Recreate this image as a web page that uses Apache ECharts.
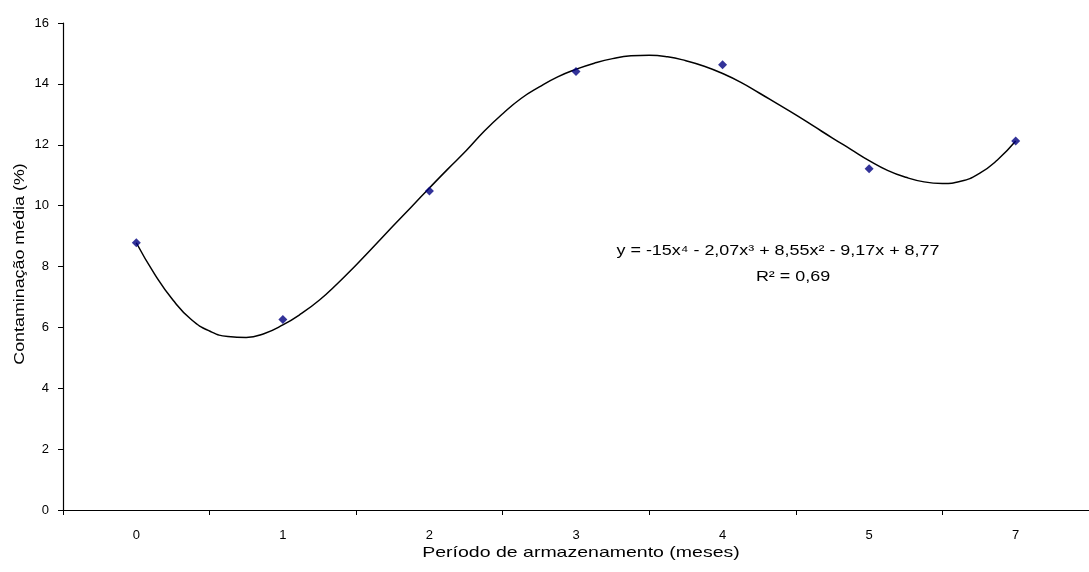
<!DOCTYPE html>
<html>
<head>
<meta charset="utf-8">
<script src="https://cdn.jsdelivr.net/npm/echarts@6/dist/echarts.min.js"></script>
<style>html,body{margin:0;padding:0;background:#fff}#c{width:1089px;height:572px}</style>
</head>
<body>
<div id="c"></div>
<script>
// Data
const categories = ['0', '1', '2', '3', '4', '5', '7'];
const observed = [8.78, 6.26, 10.48, 14.41, 14.63, 11.21, 12.12];
// Trend line: positions in category units, values in %
const trendPos = [0, 0.125, 0.25, 0.375, 0.5, 0.625, 0.75, 0.875, 1.0, 1.125, 1.25, 1.375, 1.5, 1.625, 1.75, 1.875, 2.0, 2.125, 2.25, 2.375, 2.5, 2.625, 2.75, 2.875, 3.0, 3.125, 3.25, 3.375, 3.5, 3.625, 3.75, 3.875, 4.0, 4.125, 4.25, 4.375, 4.5, 4.625, 4.75, 4.875, 5.0, 5.125, 5.25, 5.375, 5.5, 5.625, 5.75, 5.875, 6.0];
const trendVal = [8.78, 7.75, 6.90, 6.26, 5.88, 5.70, 5.67, 5.80, 6.08, 6.45, 6.90, 7.45, 8.05, 8.68, 9.32, 9.95, 10.58, 11.20, 11.80, 12.45, 13.02, 13.52, 13.90, 14.23, 14.48, 14.68, 14.83, 14.92, 14.94, 14.89, 14.76, 14.58, 14.34, 14.05, 13.70, 13.34, 12.98, 12.60, 12.22, 11.85, 11.48, 11.16, 10.93, 10.78, 10.73, 10.80, 11.05, 11.50, 12.12];
const yTicks = [0, 2, 4, 6, 8, 10, 12, 14, 16];
const equation = 'y = -15x⁴ - 2,07x³ + 8,55x² - 9,17x + 8,77';
const rSquared = 'R² = 0,69';
const xTitle = 'Período de armazenamento (meses)';
const yTitle = 'Contaminação média (%)';

const font = 'Liberation Sans, Arial, sans-serif';
const chart = echarts.init(document.getElementById('c'), null, {renderer: 'canvas'});
chart.setOption({
  backgroundColor: '#fff',
  animation: false,
  grid: {left: 63, right: -9, top: 23, bottom: 62, containLabel: false},
  xAxis: [{
    type: 'category',
    data: categories,
    boundaryGap: true,
    axisLine: {onZero: false, lineStyle: {color: '#000', width: 1.2}},
    axisTick: {show: true, length: 5, lineStyle: {color: '#000'}},
    axisLabel: {fontFamily: font, fontSize: 13, color: '#000', margin: 19}
  }, {
    type: 'value',
    min: -0.5,
    max: 6.5,
    show: false
  }],
  yAxis: {
    type: 'value',
    min: yTicks[0],
    max: yTicks[yTicks.length - 1],
    interval: 2,
    axisLine: {show: true, onZero: false, lineStyle: {color: '#000', width: 1.2}},
    axisTick: {show: true, length: 5, lineStyle: {color: '#000'}},
    axisLabel: {fontFamily: font, fontSize: 13, color: '#000', margin: 14},
    splitLine: {show: false}
  },
  series: [{
    type: 'line',
    xAxisIndex: 1,
    data: trendPos.map((p, i) => [p, trendVal[i]]),
    smooth: 0.5,
    showSymbol: false,
    lineStyle: {color: '#000', width: 1.5},
    z: 2
  }, {
    type: 'scatter',
    xAxisIndex: 0,
    data: observed,
    symbol: 'diamond',
    symbolSize: 9,
    itemStyle: {color: '#000080'},
    z: 3
  }],
  graphic: [{
    type: 'text',
    x: 778, y: 251, scaleX: 1.28,
    style: {text: equation, font: '14px ' + font, fill: '#000', textAlign: 'center', textVerticalAlign: 'middle'}
  }, {
    type: 'text',
    x: 793, y: 277, scaleX: 1.28,
    style: {text: rSquared, font: '14px ' + font, fill: '#000', textAlign: 'center', textVerticalAlign: 'middle'}
  }, {
    type: 'text',
    x: 581, y: 553, scaleX: 1.3,
    style: {text: xTitle, font: '15px ' + font, fill: '#000', textAlign: 'center', textVerticalAlign: 'middle'}
  }, {
    type: 'text',
    x: 20, y: 264, rotation: Math.PI / 2, scaleX: 1.19,
    style: {text: yTitle, font: '15px ' + font, fill: '#000', textAlign: 'center', textVerticalAlign: 'middle'}
  }]
});
</script>
</body>
</html>
